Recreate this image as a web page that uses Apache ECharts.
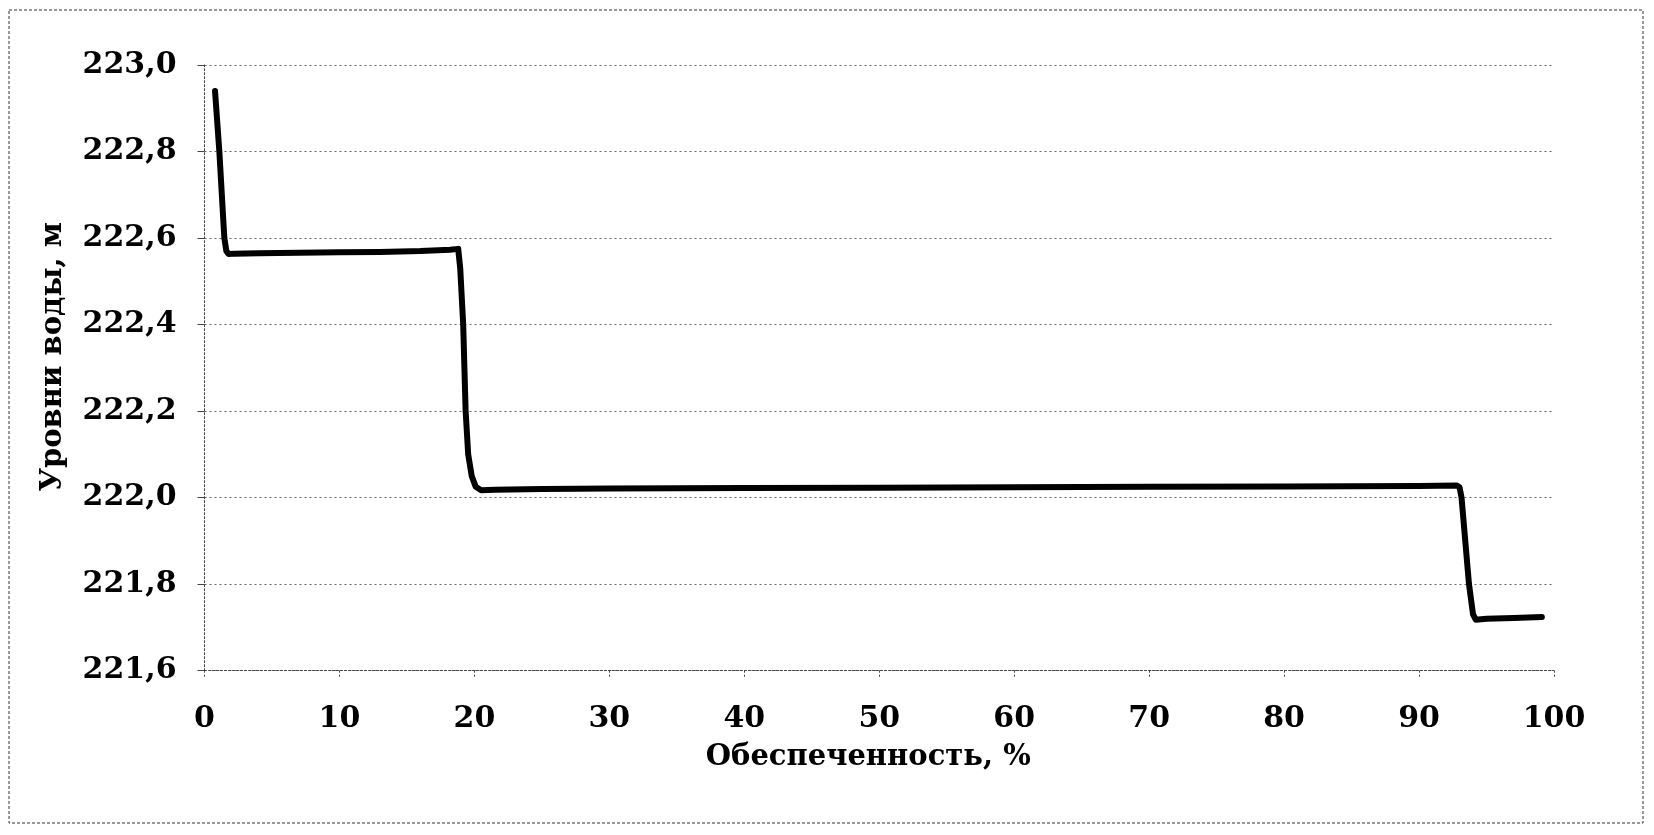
<!DOCTYPE html>
<html>
<head>
<meta charset="utf-8">
<script src="https://cdn.jsdelivr.net/npm/echarts@6/dist/echarts.min.js"></script>
<style>
html,body{margin:0;padding:0;background:#fff;}
#chart{width:1654px;height:835px;}
</style>
</head>
<body>
<div id="chart"></div>
<script>
// Обеспеченность, %
var xValues = [0.78, 1.1, 1.47, 1.62, 1.8, 2.2, 4, 7, 10, 13, 16, 18.2, 18.8, 18.95, 19.17, 19.35, 19.54, 19.8, 20.1, 20.5, 21.5, 25, 30, 40, 50, 60, 70, 80, 90, 92.8, 93.0, 93.15, 93.7, 94.0, 94.2, 95, 97, 99.1];
// Уровни воды, м
var yValues = [222.94, 222.80, 222.60, 222.57, 222.563, 222.564, 222.565, 222.566, 222.567, 222.568, 222.570, 222.573, 222.575, 222.53, 222.40, 222.20, 222.10, 222.05, 222.025, 222.017, 222.018, 222.020, 222.021, 222.022, 222.023, 222.024, 222.025, 222.026, 222.027, 222.028, 222.024, 222.00, 221.80, 221.73, 221.718, 221.720, 221.722, 221.724];
var yTickLabels = ['221,6', '221,8', '222,0', '222,2', '222,4', '222,6', '222,8', '223,0'];
var xTickLabels = ['0', '10', '20', '30', '40', '50', '60', '70', '80', '90', '100'];

var data = xValues.map(function (x, i) { return [x, yValues[i]]; });
var font = 'DejaVu Serif';

var chart = echarts.init(document.getElementById('chart'), null, {renderer: 'canvas'});
chart.setOption({
  animation: false,
  backgroundColor: '#ffffff',
  graphic: [{
    type: 'rect',
    shape: {x: 9, y: 10, width: 1634, height: 813},
    style: {fill: 'none', stroke: '#333', lineWidth: 1, lineDash: [3, 2]},
    silent: true
  }],
  grid: {left: 204.5, right: 100, top: 65, bottom: 164.3, containLabel: false},
  xAxis: {
    type: 'value', min: 0, max: 100, interval: 10,
    name: 'Обеспеченность, %', nameLocation: 'middle', nameGap: 72,
    nameTextStyle: {fontFamily: font, fontWeight: 'bold', fontSize: 29, color: '#000', padding: [0, 0, 0, -22]},
    axisLine: {show: true, lineStyle: {color: '#444', width: 1, type: [2, 2]}},
    axisTick: {show: true, length: 7, lineStyle: {color: '#444', width: 1, type: [2, 2]}},
    axisLabel: {fontFamily: font, fontWeight: 'bold', fontSize: 30, color: '#000', margin: 34,
      formatter: function (v) { return xTickLabels[Math.round(v / 10)]; }},
    splitLine: {show: false}
  },
  yAxis: {
    type: 'value', min: 221.6, max: 223.0, interval: 0.2,
    name: 'Уровни воды, м', nameLocation: 'middle', nameGap: 137, nameRotate: 90,
    nameTextStyle: {fontFamily: font, fontWeight: 'bold', fontSize: 29, color: '#000', padding: [0, 0, 0, 22]},
    axisLine: {show: true, lineStyle: {color: '#444', width: 1, type: [2, 2]}},
    axisTick: {show: true, length: 7, lineStyle: {color: '#444', width: 1}},
    axisLabel: {fontFamily: font, fontWeight: 'bold', fontSize: 30, color: '#000', margin: 28,
      formatter: function (v) { return yTickLabels[Math.round((v - 221.6) / 0.2)]; }},
    splitLine: {show: true, lineStyle: {color: '#666', width: 1, type: [2, 3]}}
  },
  series: [{
    type: 'line',
    data: data,
    showSymbol: false,
    symbol: 'none',
    smooth: false,
    lineStyle: {color: '#000', width: 6, join: 'round', cap: 'round'}
  }]
});
</script>
</body>
</html>
